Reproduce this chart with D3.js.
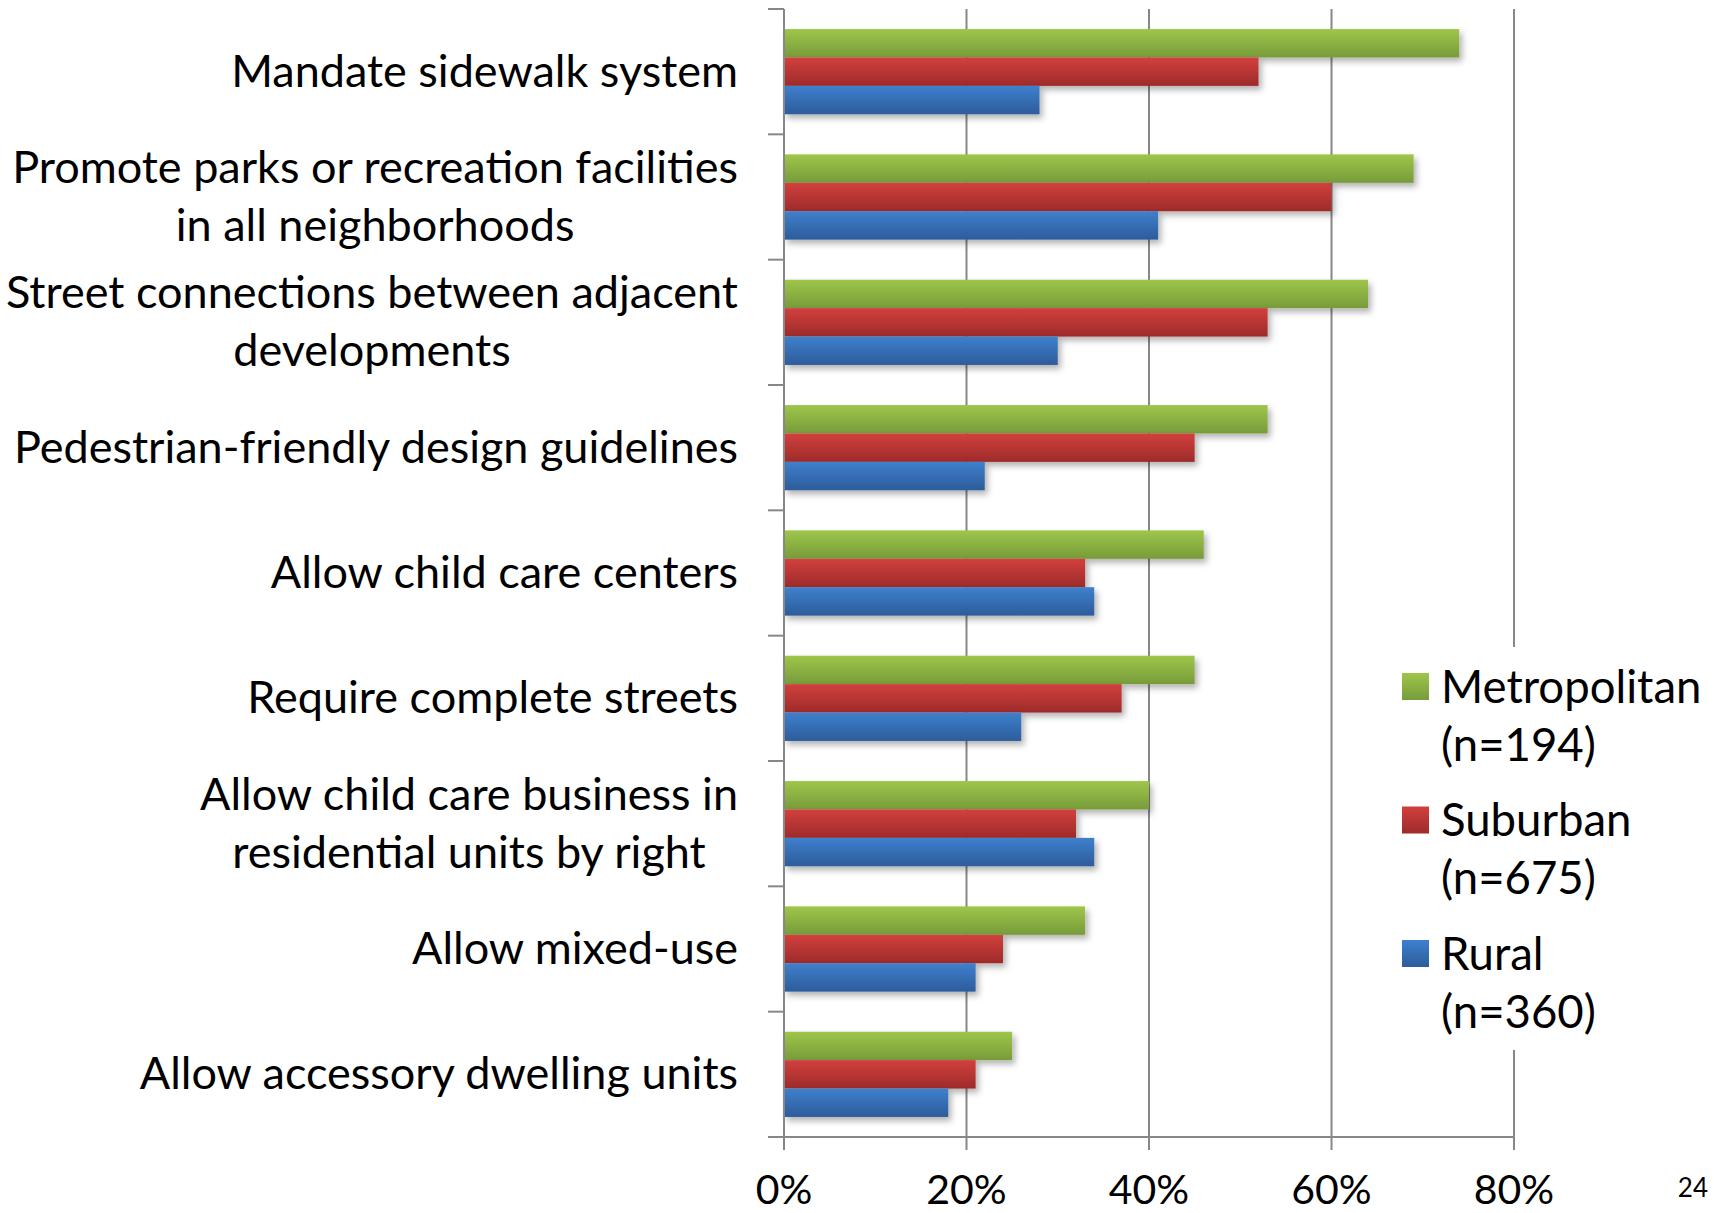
<!DOCTYPE html>
<html>
<head>
<meta charset="utf-8">
<script src="https://cdn.jsdelivr.net/npm/d3@7"></script>
<style>
  html, body { margin: 0; padding: 0; background: #fff; }
  svg { display: block; }
  text { font-family: Lato, "Open Sans", sans-serif; fill: #000; }
</style>
</head>
<body>
<svg id="chart" width="1714" height="1213"></svg>
<script>
// ---- Data ----
const categories = [
  "Mandate sidewalk system",
  "Promote parks or recreation facilities\nin all neighborhoods",
  "Street connections between adjacent\ndevelopments",
  "Pedestrian-friendly design guidelines",
  "Allow child care centers",
  "Require complete streets",
  "Allow child care business in\nresidential units by right",
  "Allow mixed-use",
  "Allow accessory dwelling units"
];
const metropolitan = [74, 69, 64, 53, 46, 45, 40, 33, 25];
const suburban     = [52, 60, 53, 45, 33, 37, 32, 24, 21];
const rural        = [28, 41, 30, 22, 34, 26, 34, 21, 18];
const seriesKeys   = ["metropolitan", "suburban", "rural"];
const legendLabels = [["Metropolitan", "(n=194)"], ["Suburban", "(n=675)"], ["Rural", "(n=360)"]];
const xTicks       = [0, 20, 40, 60, 80];
const pageNumber   = "24";

(function () {
// ---- Layout ----
const svg = d3.select("#chart");
const plotLeft = 784, plotRight = 1514, plotTop = 9, plotBottom = 1137;
const gridColor = "#878787";

const x = d3.scaleLinear().domain([0, 80]).range([plotLeft, plotRight]);
const y = d3.scaleBand().domain(categories).range([plotTop, plotBottom]).paddingInner(0.32).paddingOuter(0.16);
const ySub = d3.scaleBand().domain(seriesKeys).range([0, y.bandwidth()]);

const seriesData = { metropolitan, suburban, rural };
const grads = {
  metropolitan: ["#9ec64b", "#789b3a"],
  suburban: ["#d2403d", "#9d2b2a"],
  rural: ["#3e80cd", "#2d5c9b"]
};

const defs = svg.append("defs");
seriesKeys.forEach(k => {
  const g = defs.append("linearGradient").attr("id", "g-" + k)
    .attr("x1", 0).attr("y1", 0).attr("x2", 0).attr("y2", 1);
  g.append("stop").attr("offset", "0%").attr("stop-color", grads[k][0]);
  g.append("stop").attr("offset", "100%").attr("stop-color", grads[k][1]);
});
const f = defs.append("filter").attr("id", "shadow")
  .attr("x", "-5%").attr("y", "-20%").attr("width", "115%").attr("height", "160%");
f.append("feDropShadow").attr("dx", 3).attr("dy", 4).attr("stdDeviation", 3)
  .attr("flood-color", "#000").attr("flood-opacity", 0.3);

// gridlines
svg.append("g").selectAll("line").data(xTicks.slice(1)).join("line")
  .attr("x1", d => x(d)).attr("x2", d => x(d))
  .attr("y1", plotTop).attr("y2", plotBottom)
  .attr("stroke", gridColor).attr("stroke-width", 2);

// bars
const groups = svg.append("g").selectAll("g").data(categories).join("g")
  .attr("transform", d => `translate(0,${y(d)})`);
groups.selectAll("rect")
  .data((d, i) => seriesKeys.map(k => ({ k, v: seriesData[k][i] })))
  .join("rect")
  .attr("x", x(0))
  .attr("y", d => ySub(d.k))
  .attr("width", d => x(d.v) - x(0))
  .attr("height", ySub.bandwidth())
  .attr("fill", d => `url(#g-${d.k})`)
  .attr("filter", "url(#shadow)");

// legend background (covers 80% gridline)
svg.append("rect").attr("x", 1395).attr("y", 647).attr("width", 319).attr("height", 403).attr("fill", "#fff");
const legend = svg.append("g");
const lg = legend.selectAll("g").data(seriesKeys).join("g")
  .attr("transform", (d, i) => `translate(1402,${673 + i * 133.5})`);
lg.append("rect").attr("width", 27).attr("height", 27).attr("fill", d => `url(#g-${d})`);
lg.each(function(d, i) {
  const g = d3.select(this);
  legendLabels[i].forEach((t, j) => {
    g.append("text").attr("x", 39).attr("y", 12 + j * 58)
      .attr("dominant-baseline", "central")
      .style("font-size", "45.5px").text(t);
  });
});

// y axis
const yAxisG = svg.append("g");
yAxisG.append("line").attr("x1", plotLeft).attr("x2", plotLeft).attr("y1", plotTop).attr("y2", plotBottom)
  .attr("stroke", gridColor).attr("stroke-width", 2);
const step = y.step();
const boundaries = d3.range(categories.length + 1).map(i => plotTop + i * step);
yAxisG.selectAll("line.tick").data(boundaries).join("line").attr("class", "tick")
  .attr("x1", plotLeft - 16).attr("x2", plotLeft).attr("y1", d => d).attr("y2", d => d)
  .attr("stroke", gridColor).attr("stroke-width", 2);

// x axis
const xAxisG = svg.append("g");
xAxisG.append("line").attr("x1", plotLeft - 16).attr("x2", plotRight).attr("y1", plotBottom).attr("y2", plotBottom)
  .attr("stroke", gridColor).attr("stroke-width", 2);
xAxisG.selectAll("line.tick").data(xTicks).join("line").attr("class", "tick")
  .attr("x1", d => x(d)).attr("x2", d => x(d)).attr("y1", plotBottom).attr("y2", plotBottom + 13)
  .attr("stroke", gridColor).attr("stroke-width", 2);
xAxisG.selectAll("text").data(xTicks).join("text")
  .attr("x", d => x(d)).attr("y", 1204)
  .attr("text-anchor", "middle")
  .style("font-size", "41px")
  .text(d => d + "%");

// category labels
const labelRight = 738;
const lblG = svg.append("g");
categories.forEach(c => {
  const lines = c.split("\n");
  const cy = y(c) + y.bandwidth() / 2;
  const tmp = lines.map(l => lblG.append("text").style("font-size", "45px").text(l));
  const maxW = d3.max(tmp, t => t.node().getComputedTextLength());
  const cx = labelRight - maxW / 2;
  tmp.forEach((t, j) => {
    t.attr("x", cx).attr("text-anchor", "middle")
      .attr("y", cy - 2 + (j - (lines.length - 1) / 2) * 58)
      .attr("dominant-baseline", "central");
  });
});

// page number (kept fully inside the canvas)
svg.append("text").attr("x", 1708).attr("y", 1197).attr("text-anchor", "end")
  .style("font-size", "26px").text(pageNumber);
})();
</script>
</body>
</html>
